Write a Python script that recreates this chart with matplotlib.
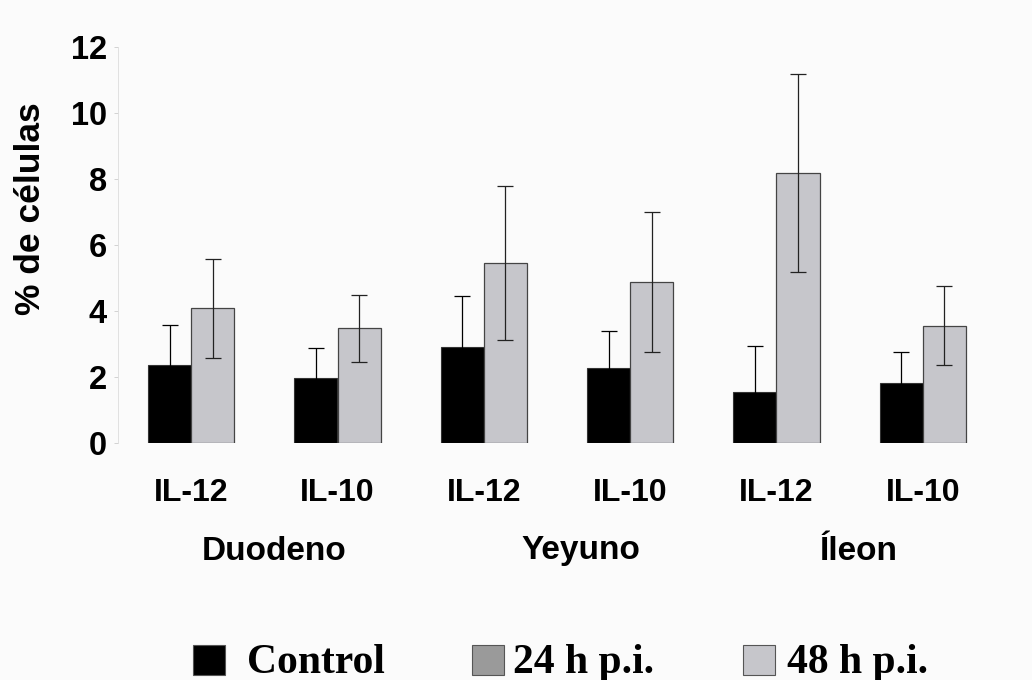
import matplotlib
matplotlib.use("Agg")
import matplotlib.pyplot as plt
from matplotlib.patches import Rectangle
import numpy as np

categories = ["IL-12", "IL-10", "IL-12", "IL-10", "IL-12", "IL-10"]
regions = ["Duodeno", "Yeyuno", "Íleon"]
control = [2.35, 1.97, 2.9, 2.27, 1.55, 1.82]
control_err = [1.22, 0.91, 1.54, 1.12, 1.39, 0.94]
h48 = [4.08, 3.48, 5.45, 4.88, 8.17, 3.55]
h48_err = [1.5, 1.02, 2.33, 2.12, 3.0, 1.2]
legend_labels = ["Control", "24 h p.i.", "48 h p.i."]
legend_colors = ["#000000", "#9a9a9a", "#c6c6cb"]

W, H = 1032, 680
bg = "#fbfbfb"
fig = plt.figure(figsize=(W / 100, H / 100), dpi=100, facecolor=bg)
ax = fig.add_axes([118 / W, 1 - 443 / H, (996 - 118) / W, (443 - 47) / H])
ax.set_facecolor(bg)

x = np.arange(len(categories))
w = 0.295
ax.bar(x - w / 2, control, w, color=legend_colors[0], edgecolor="#333333", linewidth=0.8,
       yerr=control_err, error_kw=dict(ecolor="#000000", elinewidth=0.9, capsize=6, capthick=0.9))
ax.bar(x + w / 2, h48, w, color=legend_colors[2], edgecolor="#444444", linewidth=0.9,
       yerr=h48_err, error_kw=dict(ecolor="#222222", elinewidth=0.9, capsize=6, capthick=0.9))

ax.set_xlim(-0.5, len(categories) - 0.5)
ax.set_ylim(0, 12)
ax.set_yticks(np.arange(0, 13, 2))
ax.set_xticks(x)
ax.set_xticklabels(categories, fontsize=23, fontweight="bold", family="Liberation Sans")
for lab in ax.get_yticklabels():
    lab.set_fontsize(23.5)
    lab.set_fontweight("bold")
    lab.set_family("Liberation Sans")
ax.tick_params(axis="x", length=0, pad=25)
ax.tick_params(axis="y", length=3, width=0.6, color="#cccccc", pad=5)
for s in ["top", "right", "bottom"]:
    ax.spines[s].set_visible(False)
ax.spines["left"].set_color("#dddddd")
ax.spines["left"].set_linewidth(0.6)

# region labels under pairs of categories
region_x = [0.57, 2.66, 4.56]
trans = ax.get_xaxis_transform()
for rx, name in zip(region_x, regions):
    ax.text(rx, -(551 - 443) / (443 - 47), name, transform=trans, ha="center", va="center",
            fontsize=24, fontweight="bold", family="Liberation Sans")

fig.text(31 / W, 1 - 209 / H, "% de células", rotation=90, ha="center", va="center",
         fontsize=25.5, fontweight="bold", family="Liberation Sans")

# legend drawn at the bottom
sq_x = [193, 472, 743]
tx_x = [247, 513, 787]
for sx, tx, lab, col in zip(sq_x, tx_x, legend_labels, legend_colors):
    fig.add_artist(Rectangle((sx / W, 1 - 675 / H), 32 / W, 30 / H, transform=fig.transFigure,
                             facecolor=col, edgecolor="#555555", linewidth=0.8))
    fig.text(tx / W, 1 - 673 / H, lab, ha="left", va="baseline", fontsize=30,
             fontweight="bold", family="Liberation Serif")

fig.savefig("out.png", dpi=100, facecolor=bg)
